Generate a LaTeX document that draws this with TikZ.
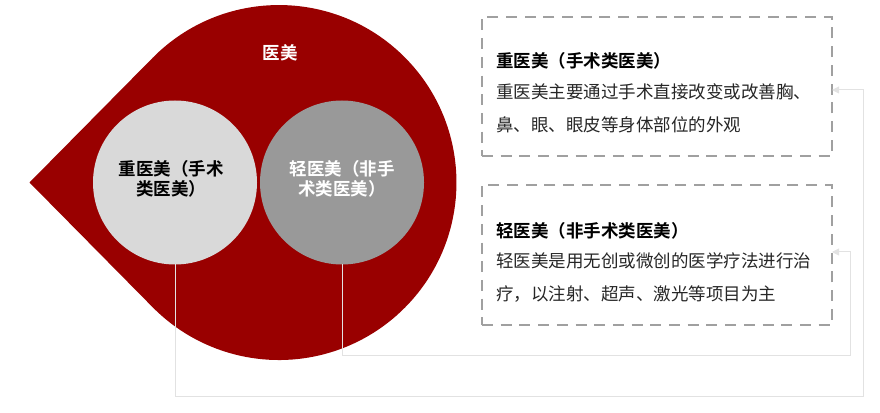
\documentclass[tikz,border=0pt]{standalone}
\usepackage{fontspec}
\setmainfont{Noto Sans CJK SC}[BoldFont={Noto Sans CJK SC Bold}]
\usetikzlibrary{arrows.meta}
\definecolor{dropred}{HTML}{990000}
\definecolor{lightc}{HTML}{D9D9D9}
\definecolor{darkc}{HTML}{999999}
\definecolor{dashc}{HTML}{A0A0A0}
\definecolor{connc}{HTML}{E2E2E2}
\definecolor{txt}{HTML}{262626}
\tikzset{
  circ/.style={circle, minimum size=164pt, inner sep=0pt, outer sep=0pt, draw=none},
  dbox/.style={draw=dashc, line width=2.8pt, dash pattern=on 11pt off 7.7pt, minimum width=350pt, inner sep=0pt, outer sep=0pt},
  conn/.style={draw=connc, line width=1pt, -{Triangle[length=7pt,width=7pt]}},
  ttl/.style={anchor=base west, inner sep=0pt, font=\fontsize{17.5pt}{20pt}\selectfont\bfseries, text=black},
  body/.style={anchor=base west, inner sep=0pt, font=\fontsize{17.5pt}{20pt}\selectfont, text=txt},
  ctext/.style={anchor=base, inner sep=0pt, font=\fontsize{17.5pt}{20pt}\selectfont\bfseries}
}
\begin{document}
\begin{tikzpicture}[x=1pt,y=1pt]
\useasboundingbox (0,0) rectangle (880,412);
% teardrop
\fill[dropred] (29.5,229.5) -- (152.7,354.2) arc[start angle=135.35, end angle=-135.35, radius=177.5] -- cycle;
\node[ctext, text=white] (top) at (280,352.4) {医美};
% circles
\node[circ, fill=lightc] (c1) at (175,229.5) {};
\node[circ, fill=darkc] (c2) at (342,229.5) {};
\node[ctext, text=black] (c1a) at (171,236.4) {重医美（手术};
\node[ctext, text=black] (c1b) at (171,216.4) {类医美）};
\node[ctext, text=white] (c2a) at (342,236.4) {轻医美（非手};
\node[ctext, text=white] (c2b) at (342,216.4) {术类医美）};
% boxes
\node[dbox, minimum height=139pt] (b1) at (657,325.5) {};
\node[dbox, minimum height=140pt] (b2) at (657,157) {};
\node[ttl] (t1) at (496,344.4) {重医美（手术类医美）};
\node[body] (t1a) at (496,313.4) {重医美主要通过手术直接改变或改善胸、};
\node[body] (t1b) at (496,280.4) {鼻、眼、眼皮等身体部位的外观};
\node[ttl] (t2) at (496,174.4) {轻医美（非手术类医美）};
\node[body] (t2a) at (496,144.4) {轻医美是用无创或微创的医学疗法进行治};
\node[body] (t2b) at (496,111.4) {疗，以注射、超声、激光等项目为主};
% connectors
\coordinate (k1) at (863,16);
\coordinate (a1) at (863,322);
\coordinate (k2) at (850,56);
\coordinate (a2) at (850,160);
\draw[conn] (c1.south) |- (k1) -- (a1) -- (b1.east |- a1);
\draw[conn] (c2.south) |- (k2) -- (a2) -- (b2.east |- a2);
\end{tikzpicture}
\end{document}
